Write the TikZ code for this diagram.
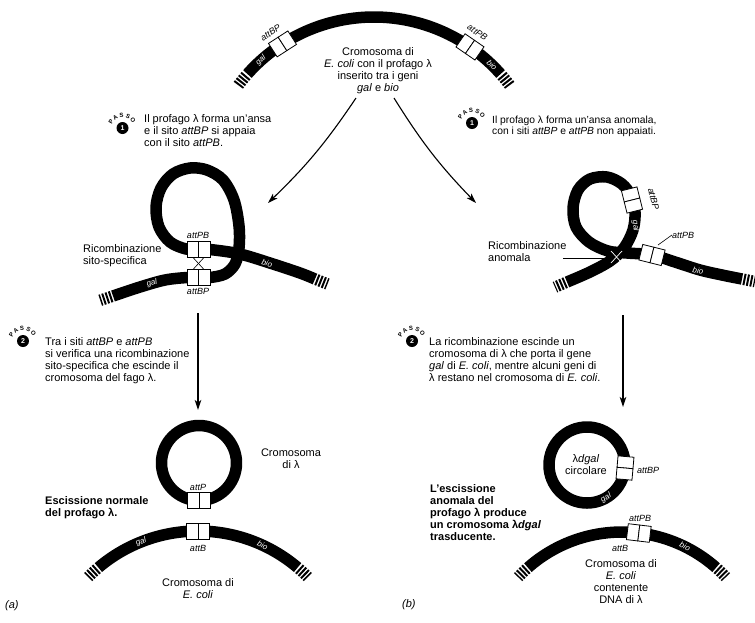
\documentclass[tikz,border=0pt]{standalone}
\usepackage{fontspec}
\setmainfont{Liberation Sans}
\usetikzlibrary{arrows.meta}

\tikzset{
  dna/.style={line width=11.5pt, line cap=butt, line join=round},
  dnaend/.style={line width=11.5pt, line cap=butt, dash pattern=on 2pt off 1.5pt},
  sitebox/.style={draw=black, fill=white, line width=0.8pt},
  site/.pic={
    \draw[sitebox] (-11.5,-8) rectangle (0,8);
    \draw[sitebox] (0,-8) rectangle (11.5,8);
  },
  body/.style={font=\fontsize{11}{12.3}\selectfont, inner sep=0pt, align=left},
  bodyc/.style={body, align=center},
  boldbody/.style={font=\fontsize{11}{12.2}\selectfont\bfseries, inner sep=0pt, align=left},
  sitelbl/.style={font=\fontsize{9}{10}\selectfont\itshape, inner sep=0pt},
  genelbl/.style={font=\fontsize{8}{9}\selectfont\itshape, text=white, inner sep=0pt},
  flow/.style={line width=1.1pt, -{Stealth[length=10pt,width=6.5pt,inset=2.5pt]}},
  leader/.style={line width=0.6pt},
  passo/.style={font=\fontsize{6}{6}\selectfont\bfseries, inner sep=0pt},
  badgenum/.style={font=\fontsize{7}{7}\selectfont\bfseries, text=white, inner sep=0pt},
  badge/.pic={
    \fill[black] (0,0) circle (6pt);
    \node[badgenum] (-num) at (0,0) {#1};
    \foreach \l/\a [count=\k] in {P/152,A/123,S/94,S/65,O/36}
      \node[passo, rotate=\a-90] (-l\k) at ({13*cos(\a)},{-13*sin(\a)}) {\l};
  },
}

\begin{document}
\begin{tikzpicture}[x=1pt, y=-1pt]
\useasboundingbox (0,0) rectangle (755,622);
\fill[white] (0,0) rectangle (755,622);

% multi-line nodes are placed by the baseline of their last line

% ---------- E. coli chromosome with the integrated prophage ----------
\draw[dna] plot[domain=-138.5:-41.5, samples=80] ({374+169*cos(\x)},{186+169*sin(\x)});
\draw[dnaend] plot[domain=-139.2:-143.4, samples=12] ({374+169*cos(\x)},{186+169*sin(\x)});
\draw[dnaend] plot[domain=-40.8:-36.6, samples=12] ({374+169*cos(\x)},{186+169*sin(\x)});
\pic[rotate=32.8] at (282.5,43.9) {site};
\pic[rotate=-34.6] at (470.0,46.9) {site};
\node[sitelbl, rotate=33] (topBP) at (270.6,32.6) {attBP};
\node[sitelbl, rotate=-34] (topPB) at (477.4,32.6) {attPB};
\node[genelbl, rotate=42] (topgal) at (260.9,60.4) {gal};
\node[genelbl, rotate=-44] (topbio) at (492,65) {bio};
\node[bodyc, font=\fontsize{11}{11.7}\selectfont, anchor=base] (topcap) at (378,91)
  {Cromosoma di\\\textit{E. coli} con il profago λ\\inserito tra i geni\\\textit{gal} e \textit{bio}};

\coordinate (topL) at (356,98);
\coordinate (loopLin) at (268,203);
\coordinate (topR) at (394,98);
\coordinate (loopRin) at (476,203);
\draw[flow] (topL) to[bend left=6] (loopLin);
\draw[flow] (topR) to[bend right=6] (loopRin);

% ---------- step 1 captions ----------
\pic (s1L) at (122.5,128) {badge=1};
\node[body, anchor=base west] (s1Ltxt) at (144,146.6)
  {Il profago λ forma un'ansa\\e il sito \textit{attBP} si appaia\\con il sito \textit{attPB}.};
\pic (s1R) at (472,123) {badge=1};
\node[body, font=\fontsize{10.3}{10.8}\selectfont, anchor=base west] (s1Rtxt) at (492,134)
  {Il profago λ forma un'ansa anomala,\\con i siti \textit{attBP} e \textit{attPB} non appaiati.};

% ---------- normal loop ----------
\draw[dna] plot[smooth, tension=0.55] coordinates {(113,296) (140,287) (165,280) (187,277.5) (198,277.5) (210,277.5) (225,274) (235,264) (239,248) (239,226) (234,200) (223,180) (207,170) (190,168) (173,174) (161,188) (156,207) (159,227) (170,242) (186,249) (198,249) (210,249.5) (240,254) (273,264) (300,273) (315,279)};
\draw[dnaend] (111.6,296.5) -- (100.2,300.3);
\draw[dnaend] (316.4,279.6) -- (327.5,284);
\pic at (198.5,249) {site};
\pic at (198.5,277.5) {site};
\draw[leader] (193,257.5) -- (204,269.5);
\draw[leader] (204,257.5) -- (193,269.5);
\node[sitelbl] (lPB) at (198,235.5) {attPB};
\node[sitelbl] (lBP) at (198,291.5) {attBP};
\node[genelbl, rotate=16] (lgal) at (152,283) {gal};
\node[genelbl, rotate=-17] (lbio) at (267,263) {bio};
\node[body, anchor=base west] (rss) at (83,264.3) {Ricombinazione\\sito-specifica};

% ---------- anomalous loop ----------
\draw[dna] plot[smooth, tension=0.55] coordinates {(567,282) (590,272) (610,261) (624,248) (633,230) (635,212) (631,196) (622,184) (607,177) (590,179) (578,190) (573,208) (576,227) (589,242) (608,251) (627,253) (652,255) (675,262) (700,270) (722,275) (742,279)};
\draw[dnaend] (565.6,282.6) -- (555,287.2);
\draw[dnaend] (743.5,279.3) -- (755,281.6);
\pic[rotate=-76] at (632,200) {site};
\pic[rotate=-14] at (652,255) {site};
\draw[white, line width=0.7pt] (611,251) -- (622,263);
\draw[white, line width=0.7pt] (622,251) -- (611,263);
\node[sitelbl, rotate=-76] (rBP) at (653.5,199) {attBP};
\node[genelbl, rotate=-84] (rgal) at (635.5,226) {gal};
\node[genelbl, rotate=-12] (rbio) at (698,271) {bio};
\node[sitelbl, anchor=base west] (rPB) at (672,238) {attPB};
\coordinate (rPBfoot) at (658,245);
\draw[leader] (rPBfoot) -- (rPB.west);
\node[body, anchor=base west] (ranom) at (488,261.3) {Ricombinazione\\anomala};
\coordinate (ranomtip) at (611,258);
\coordinate (ranomfoot) at (563,258);
\draw[leader] (ranomfoot) -- (ranomtip);

% ---------- step 2 captions and arrows ----------
\coordinate (l2top) at (198,313);
\coordinate (l2bot) at (198,410);
\draw[flow] (l2top) -- (l2bot);
\coordinate (r2top) at (623,315);
\coordinate (r2bot) at (623,407);
\draw[flow] (r2top) -- (r2bot);

\pic (s2L) at (23,341) {badge=2};
\node[body, anchor=base west] (s2Ltxt) at (45,381.9)
  {Tra i siti \textit{attBP} e \textit{attPB}\\si verifica una ricombinazione\\sito-specifica che escinde il\\cromosoma del fago λ.};
\pic (s2R) at (412,341) {badge=2};
\node[body, anchor=base west] (s2Rtxt) at (429,381.9)
  {La ricombinazione escinde un\\cromosoma di λ che porta il gene\\\textit{gal} di \textit{E. coli}, mentre alcuni geni di\\λ restano nel cromosoma di \textit{E. coli}.};

% ---------- normal excision products ----------
\draw[dna] (199,463) circle[radius=37.5pt];
\pic at (199,500.5) {site};
\node[sitelbl] (aP) at (198,487.5) {attP};
\draw[dna] plot[domain=-130.3:-49.7, samples=60] ({198+154*cos(\x)},{685+154*sin(\x)});
\draw[dnaend] plot[domain=-131:-135.5, samples=12] ({198+154*cos(\x)},{685+154*sin(\x)});
\draw[dnaend] plot[domain=-49:-44.5, samples=12] ({198+154*cos(\x)},{685+154*sin(\x)});
\pic at (198,531) {site};
\node[sitelbl] (aB) at (198,548) {attB};
\node[genelbl, rotate=21.7] (agal) at (141.1,541.9) {gal};
\node[genelbl, rotate=-24.8] (abio) at (262.6,545.2) {bio};
\node[bodyc, anchor=base] (lamc) at (291,468.3) {Cromosoma\\di λ};
\node[boldbody, anchor=base west] (normal) at (45,516.2) {Escissione normale\\del profago λ.};
\node[bodyc, anchor=base] (ecoliA) at (198,598.3) {Cromosoma di\\\textit{E. coli}};
\node[body, font=\fontsize{11}{12}\selectfont\itshape, anchor=base west] (pa) at (5,608) {(a)};

% ---------- anomalous excision products ----------
\draw[dna] (587,465) circle[radius=38pt];
\pic[rotate=-95] at (625,468) {site};
\node[sitelbl, anchor=base west] (bBP) at (637,473) {attBP};
\node[bodyc, anchor=base] (dgal) at (586,474.3) {λ\textit{dgal}\\circolare};
\node[genelbl, rotate=30] (bgal) at (606,497.9) {gal};
\draw[dna] plot[domain=-131.5:-48.5, samples=60] ({622+142*cos(\x)},{674+142*sin(\x)});
\draw[dnaend] plot[domain=-132.2:-137, samples=12] ({622+142*cos(\x)},{674+142*sin(\x)});
\draw[dnaend] plot[domain=-47.8:-43, samples=12] ({622+142*cos(\x)},{674+142*sin(\x)});
\pic[rotate=-6.8] at (638.8,533) {site};
\node[sitelbl] (bPB) at (640,518) {attPB};
\node[sitelbl] (bB) at (620,548) {attB};
\node[genelbl, rotate=-26.4] (bbio) at (685,546.8) {bio};
\node[bodyc, anchor=base] (ecoliB) at (621,603.9) {Cromosoma di\\\textit{E. coli}\\contenente\\DNA di λ};
\node[boldbody, anchor=base west] (anomal) at (430,540.8)
  {L'escissione\\anomala del\\profago λ produce\\un cromosoma λ\textit{dgal}\\trasducente.};
\node[body, font=\fontsize{11}{12}\selectfont\itshape, anchor=base west] (pb) at (402,607) {(b)};
\end{tikzpicture}
\end{document}
